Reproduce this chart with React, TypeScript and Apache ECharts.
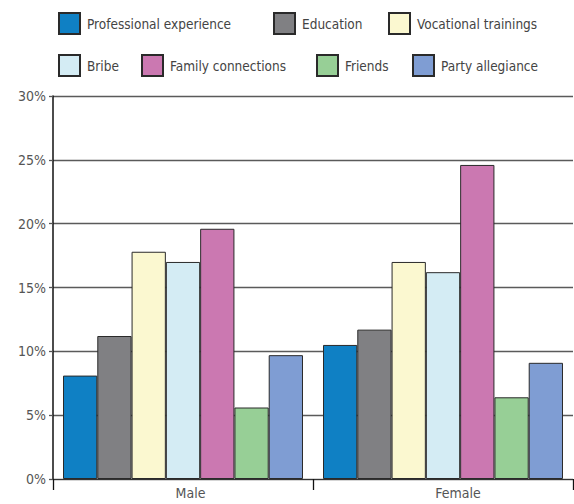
import React, { useEffect, useRef } from "react";
import * as echarts from "echarts";

const categories = ["Male", "Female"];
const seriesNames = [
  "Professional experience",
  "Education",
  "Vocational trainings",
  "Bribe",
  "Family connections",
  "Friends",
  "Party allegiance",
];
const professional = [8.1, 10.5];
const education = [11.2, 11.7];
const vocational = [17.8, 17.0];
const bribe = [17.0, 16.2];
const family = [19.6, 24.6];
const friends = [5.6, 6.4];
const party = [9.7, 9.1];
const colors = ["#0f80c4", "#808083", "#fbf8d0", "#d4ecf4", "#cb78b1", "#97cf96", "#7f9dd3"];
const yTicks = [0, 5, 10, 15, 20, 25, 30];

const FONT = "'DejaVu Sans Condensed', sans-serif";

export default function App() {
  const ref = useRef<HTMLDivElement>(null);
  useEffect(() => {
    if (!ref.current) return;
    const chart = echarts.init(ref.current, undefined, { renderer: "svg" });
    const values = [professional, education, vocational, bribe, family, friends, party];
    const legendPos = [
      { left: 58, top: 12 },
      { left: 273, top: 12 },
      { left: 388, top: 12 },
      { left: 58, top: 54 },
      { left: 141, top: 54 },
      { left: 316, top: 54 },
      { left: 412, top: 54 },
    ];
    chart.setOption({
      animation: false,
      textStyle: { fontFamily: FONT },
      legend: seriesNames.map((n, i) => ({
        data: [n],
        left: legendPos[i].left,
        top: legendPos[i].top,
        padding: 0,
        icon: "rect",
        itemWidth: 21,
        itemHeight: 21,
        selectedMode: false,
        textStyle: { fontFamily: FONT, fontSize: 13.5, color: "#444", padding: [0, 0, 0, 2] },
      })),
      grid: { left: 53, right: 1, top: 96, bottom: 25 },
      xAxis: {
        type: "category",
        data: categories,
        axisLine: { show: true, lineStyle: { color: "#333", width: 1 } },
        axisTick: { show: true, length: 11, interval: 0, lineStyle: { color: "#111", width: 1.3 } },
        axisLabel: {
          margin: 7,
          fontFamily: FONT,
          fontSize: 14,
          color: "#555",
          formatter: (v: string) => (v === "Male" ? `{m|${v}}` : `{f|${v}}`),
          rich: {
            m: { fontFamily: FONT, fontSize: 14, color: "#555", padding: [0, 0, 0, 15] },
            f: { fontFamily: FONT, fontSize: 14, color: "#555", padding: [0, 0, 0, 30] },
          },
        },
      },
      yAxis: {
        type: "value",
        min: yTicks[0],
        max: yTicks[yTicks.length - 1],
        interval: 5,
        axisLine: { show: true, lineStyle: { color: "#111", width: 1.5 } },
        axisTick: { show: true, length: 4, lineStyle: { color: "#555", width: 1.3 } },
        axisLabel: {
          margin: 7,
          fontFamily: FONT,
          fontSize: 14,
          color: "#555",
          formatter: (v: number) => `${v}%`,
        },
        splitLine: { show: true, lineStyle: { color: "#5a5a5a", width: 1.3 } },
      },
      series: seriesNames.map((n, i) => ({
        name: n,
        type: "bar",
        data: values[i],
        barGap: "0%",
        barCategoryGap: "7.7%",
        itemStyle: { color: colors[i], borderColor: "#2a2a2a", borderWidth: 1 },
      })),
    });
    return () => chart.dispose();
  }, []);
  return (
    <div
      ref={ref}
      style={{ position: "absolute", left: 0, top: 0, width: 574, height: 504 }}
    />
  );
}
